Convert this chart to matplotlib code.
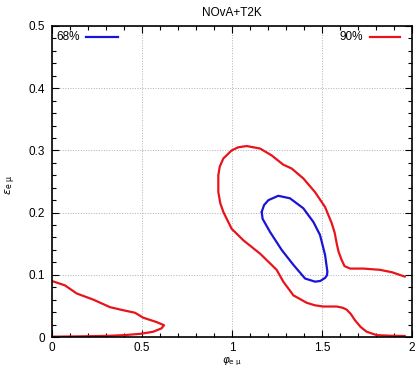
import numpy as np
import matplotlib
matplotlib.use("Agg")
import matplotlib.pyplot as plt
from matplotlib.ticker import MultipleLocator

plt.rcParams['font.family'] = ['Liberation Sans', 'DejaVu Sans']

# 90% CL contour, upper island (open at right edge)
red1_x = [1.961, 1.890, 1.822, 1.730, 1.656, 1.625, 1.609, 1.592, 1.582, 1.570,
          1.554, 1.517, 1.461, 1.396, 1.331, 1.285, 1.220, 1.156, 1.081, 1.035,
          0.998, 0.952, 0.932, 0.924, 0.924, 0.935, 0.952, 0.998, 1.065, 1.156,
          1.248, 1.285, 1.341, 1.415, 1.460, 1.507, 1.582, 1.615, 1.637, 1.660,
          1.683, 1.715, 1.748, 1.804, 1.880, 1.961]
red1_y = [0.097, 0.104, 0.108, 0.110, 0.110, 0.114, 0.124, 0.137, 0.150, 0.168,
          0.183, 0.209, 0.233, 0.255, 0.271, 0.277, 0.292, 0.303, 0.307, 0.305,
          0.300, 0.287, 0.274, 0.260, 0.233, 0.215, 0.201, 0.174, 0.155, 0.134,
          0.108, 0.089, 0.067, 0.055, 0.051, 0.049, 0.049, 0.047, 0.044, 0.037,
          0.027, 0.016, 0.0085, 0.003, 0.002, 0.0016]

# 90% CL contour, lower-left island
red2_x = [0.000, 0.072, 0.137, 0.230, 0.322, 0.396, 0.461, 0.507, 0.581, 0.622,
          0.609, 0.563, 0.489, 0.400, 0.304, 0.150, 0.000]
red2_y = [0.090, 0.083, 0.070, 0.060, 0.048, 0.043, 0.039, 0.031, 0.024, 0.019,
          0.014, 0.0085, 0.005, 0.003, 0.0018, 0.001, 0.0005]

# 68% CL contour
blue_x = [1.165, 1.178, 1.202, 1.257, 1.322, 1.396, 1.452, 1.489, 1.517, 1.530,
          1.527, 1.517, 1.490, 1.461, 1.406, 1.341, 1.276, 1.211, 1.170, 1.165]
blue_y = [0.201, 0.212, 0.220, 0.227, 0.223, 0.207, 0.185, 0.164, 0.132, 0.105,
          0.099, 0.095, 0.090, 0.089, 0.094, 0.116, 0.140, 0.169, 0.190, 0.201]

red = '#e8141c'
blue = '#1a14d8'

fig = plt.figure(figsize=(4.18, 3.67), dpi=100)
ax = fig.add_axes([52/418, 30/367, 360/418, 311/367])

kw = dict(lw=1.6, solid_joinstyle='round', solid_capstyle='round')
ax.plot(red1_x, red1_y, color=red, **kw)
ax.plot(red2_x, red2_y, color=red, **kw)
ax.plot(blue_x, blue_y, color=blue, **kw)

ax.set_xlim(0, 2)
ax.set_ylim(0, 0.5)
ax.xaxis.set_minor_locator(MultipleLocator(0.1))
ax.yaxis.set_minor_locator(MultipleLocator(0.02))
ax.set_xticks([0, 0.5, 1, 1.5, 2], ['0', '0.5', '1', '1.5', '2'])
ax.set_yticks([0, 0.1, 0.2, 0.3, 0.4, 0.5], ['0', '0.1', '0.2', '0.3', '0.4', '0.5'])
ax.tick_params(which='both', direction='in', top=True, right=True, labelsize=8.5, pad=5)
ax.tick_params(axis='x', which='both', pad=3.5)
ax.tick_params(which='major', length=5, width=0.8)
ax.tick_params(which='minor', length=3, width=0.8)
ax.grid(True, which='major', color='#b0b0b0', ls=':', lw=0.7)
for s in ax.spines.values():
    s.set_linewidth(1.2)

ax.set_title('NOvA+T2K', fontsize=8.5, pad=7)
ax.set_xlabel(r'$\varphi_{\mathrm{e\ \mu}}$', fontsize=7.5, va='center')
ax.xaxis.set_label_coords(0.5, -0.08)
ax.set_ylabel(r'$\varepsilon_{\mathrm{e\ \mu}}$', fontsize=8, va='center')
ax.yaxis.set_label_coords(-0.115, 0.49)

# legend entries drawn by hand in axes coordinates
ax.text(0.012, 0.965, '68%', transform=ax.transAxes, fontsize=8.5, va='center', ha='left')
ax.plot([0.094, 0.183], [0.965, 0.965], transform=ax.transAxes, color=blue, lw=1.6)
ax.text(0.864, 0.965, '90%', transform=ax.transAxes, fontsize=8.5, va='center', ha='right')
ax.plot([0.883, 0.967], [0.965, 0.965], transform=ax.transAxes, color=red, lw=1.6)

fig.savefig('out.png', dpi=100)
